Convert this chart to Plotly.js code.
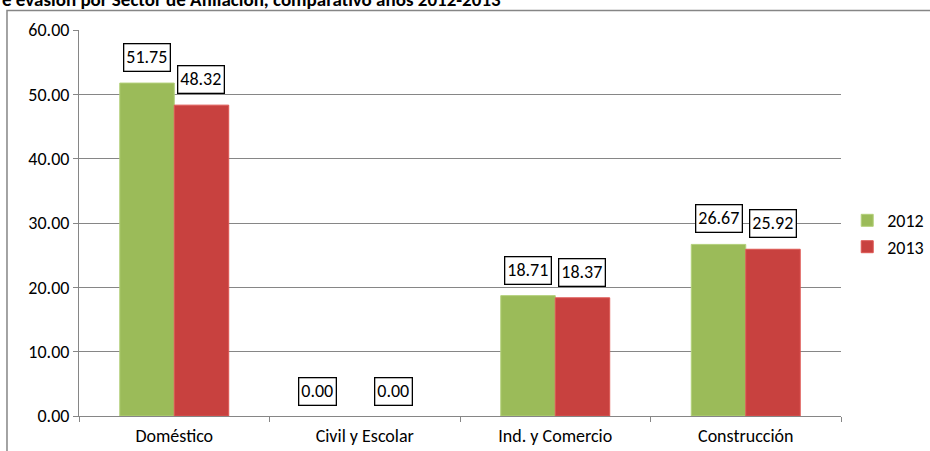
<!DOCTYPE html>
<html><head><meta charset="utf-8">
<script src="https://cdn.plot.ly/plotly-3.0.1.min.js"></script>
<style>html,body{margin:0;padding:0;background:#fff}#c{width:930px;height:451px}</style>
</head><body><div id="c"></div>
<script>
const categories = ["Doméstico", "Civil y Escolar", "Ind. y Comercio", "Construcción"];
const series2012 = [51.75, 0.00, 18.71, 26.67];
const series2013 = [48.32, 0.00, 18.37, 25.92];
const seriesNames = ["2012", "2013"];
const yTicks = [0, 10, 20, 30, 40, 50, 60];
const titleText = "e evasión por Sector de Afiliación, comparativo años 2012-2013";

const font = "Carlito, 'Liberation Sans Narrow', 'Liberation Sans', Arial, sans-serif";
const traces = [
  {type:'bar', name:seriesNames[0], x:categories, y:series2012,
   marker:{color:'#9BBB59', line:{color:'#B3D07A', width:series2012.map(v=>v>0?1:0)}}},
  {type:'bar', name:seriesNames[1], x:categories, y:series2013,
   marker:{color:'#C8413F', line:{color:'#DE5753', width:series2013.map(v=>v>0?1:0)}}}
];

const annotations = [];
const shifts = [[-27, 27],[-47, 29],[-27,27],[-27,27]];
[series2012, series2013].forEach((s, si) => {
  s.forEach((v, i) => {
    annotations.push({x:categories[i], y:v, xref:'x', yref:'y',
      text:v.toFixed(2), showarrow:false, yanchor:'bottom',
      xshift:shifts[i][si], yshift: v === 0 ? 10 : 11,
      font:{family:font, size:18, color:'#000'},
      bordercolor:'#000', borderwidth:1.3, borderpad:2, bgcolor:'#fff'});
  });
});
annotations.push({xref:'paper', yref:'paper', x:-0.1037, y:1.078, xanchor:'left', yanchor:'middle',
  text:'<b>'+titleText+'</b>', showarrow:false, font:{family:font, size:19, color:'#000'}});

const layout = {
  width:930, height:451,
  margin:{l:79, r:89, t:30, b:35, autoexpand:false},
  paper_bgcolor:'#fff', plot_bgcolor:'#fff',
  bargap:0.428, bargroupgap:0,
  barmode:'group',
  showlegend:true,
  legend:{xref:'container', yref:'container', x:0.911, y:0.482, xanchor:'left', yanchor:'middle',
    font:{family:font, size:18, color:'#000'},
    tracegroupgap:0, itemwidth:30, bgcolor:'rgba(0,0,0,0)'},
  xaxis:{type:'category', tickson:'boundaries', ticks:'outside', ticklen:5, tickcolor:'#868686',
    showline:true, linecolor:'#868686', linewidth:1, showgrid:false, ticklabelstandoff:3,
    tickfont:{family:font, size:18, color:'#000'}},
  yaxis:{range:[0,60], tickvals:yTicks, ticktext:yTicks.map(v=>v.toFixed(2)),
    ticks:'outside', ticklen:5, tickcolor:'#868686', showline:true, linecolor:'#868686',
    gridcolor:'#868686', gridwidth:1, zeroline:false,
    tickfont:{family:font, size:18, color:'#000'}},
  annotations:annotations,
  shapes:[{type:'rect', xref:'paper', yref:'paper', x0:-0.0945, x1:1.2, y0:-0.2, y1:1.0505,
    line:{color:'#868686', width:1.5}, fillcolor:'rgba(0,0,0,0)', layer:'below'}]
};
Plotly.newPlot('c', traces, layout, {displayModeBar:false, staticPlot:true});
</script></body></html>
